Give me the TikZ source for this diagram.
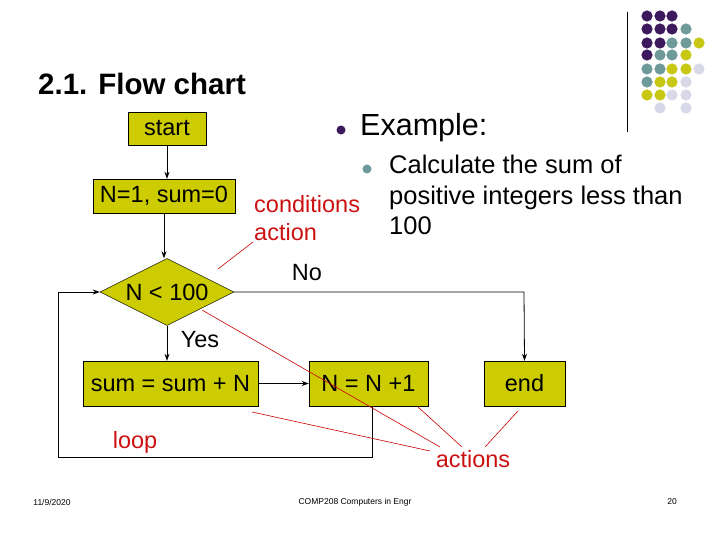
\documentclass[tikz,border=0pt]{standalone}
\usepackage{fontspec}
\setmainfont{Liberation Sans}
\usetikzlibrary{shapes.geometric,arrows.meta}
\definecolor{boxy}{HTML}{CCCC00}
\definecolor{dP}{HTML}{3D1A5E}
\definecolor{dT}{HTML}{6F9A9A}
\definecolor{dY}{HTML}{C8C814}
\definecolor{dL}{HTML}{D8D8E8}
\definecolor{redl}{HTML}{CC1111}
\begin{document}
\begin{tikzpicture}[x=1pt,y=-1pt,
  fbox/.style={draw=black,fill=boxy,inner sep=0pt,font=\fontsize{23.5}{26}\selectfont},
  arr/.style={-{Stealth[length=7pt,width=5pt]},thick},
  ln/.style={thick},
  rl/.style={red!80!black,line width=0.6pt},
  rt/.style={text=redl,font=\fontsize{23.5}{26}\selectfont,inner sep=0pt},
  bt/.style={font=\fontsize{23.5}{26}\selectfont,inner sep=0pt}]
\useasboundingbox (0,0) rectangle (720,540);
\fill[white] (0,0) rectangle (720,540);
% decoration
\draw[thick] (627,12) -- (627,132);
\foreach \c/\x/\y in {dP/647/16,dP/660/16,dP/672/16,
 dP/647/29,dP/660/29,dP/672/29,dT/686/29,
 dP/647/43,dP/660/43,dT/672/43,dT/686/43,dY/699/43,
 dP/647/55,dT/660/55,dT/672/55,dY/686/55,
 dT/647/69,dT/660/69,dY/672/69,dY/686/69,dL/699/69,
 dT/647/82,dY/660/82,dY/672/82,dL/686/82,
 dY/647/95,dY/660/95,dL/672/95,dL/686/95,
 dL/660/108,dL/686/108}
 \fill[\c] (\x,\y) circle (5.6);
\node[anchor=west,font=\fontsize{29.5}{32}\selectfont\bfseries,inner sep=0pt] (title) at (38,84) {2.1. Flow chart};
\fill[dP] (341,130) circle (4.5);
\node[anchor=west,font=\fontsize{30.5}{34}\selectfont,inner sep=0pt] (ex) at (360,128) {Example:};
\fill[dT] (367,169) circle (4.5);
\node[bt,font=\fontsize{25.5}{30.5}\selectfont,align=left,anchor=north west] (calc) at (389,155) {Calculate the sum of\\positive integers less than\\100};
% nodes
\node[fbox,minimum width=78pt,minimum height=33pt] (start) at (167,128.5) {start};
\node[fbox,minimum width=142pt,minimum height=34pt] (init) at (164,196) {N=1, sum=0};
\node[fbox,diamond,aspect=2,minimum width=134pt,minimum height=67pt] (cond) at (167,292) {N < 100};
\node[fbox,minimum width=175pt,minimum height=45pt] (sum) at (170.5,383.5) {sum = sum + N};
\node[fbox,minimum width=119pt,minimum height=45pt] (inc) at (368.5,383.5) {N = N +1};
\node[fbox,minimum width=81pt,minimum height=45pt] (end) at (524.5,383.5) {end};
\draw[arr] (start.south) -- (start.south |- init.north);
\draw[arr] (init.south) -- (init.south |- cond.north);
\draw[arr] (cond.south) -- (cond.south |- sum.north);
\draw[arr] (sum.east) -- (inc.west);
\coordinate (nr) at (524,292);
\draw[arr] (cond.east) -- (nr) -- (end.north);
\coordinate (lb) at (372,457);
\coordinate (ll) at (58,457);
\coordinate (lt) at (58,292);
\draw[ln] (inc.south -| lb) -- (lb) -- (ll) -- (lt);
\draw[arr] (lt) -- (cond.west);
% labels
\node[bt] (no) at (307,273) {No};
\node[bt] (yes) at (200,340) {Yes};
\node[rt] (loop) at (135,442) {loop};
\node[rt] (acts) at (473,459) {actions};
\node[rt,anchor=west] (conds) at (254,204) {conditions};
\node[rt,anchor=west] (act) at (254,232) {action};
\coordinate (r1) at (218,269);
\draw[rl] (253,242) -- (r1);
\coordinate (r2) at (202,310);
\coordinate (r3) at (252,412);
\coordinate (r4) at (418,407);
\coordinate (r5) at (518,411);
\draw[rl] (r2) -- (440,447);
\draw[rl] (r3) -- (430,451);
\draw[rl] (r4) -- (462,447);
\draw[rl] (r5) -- (485,447);
% footer
\node[font=\fontsize{8.5}{9}\selectfont] (date) at (52,502) {11/9/2020};
\node[font=\fontsize{8.5}{9}\selectfont] (course) at (355,502) {COMP208 Computers in Engr};
\node[font=\fontsize{8.5}{9}\selectfont] (page) at (672,502) {20};
\end{tikzpicture}
\end{document}
